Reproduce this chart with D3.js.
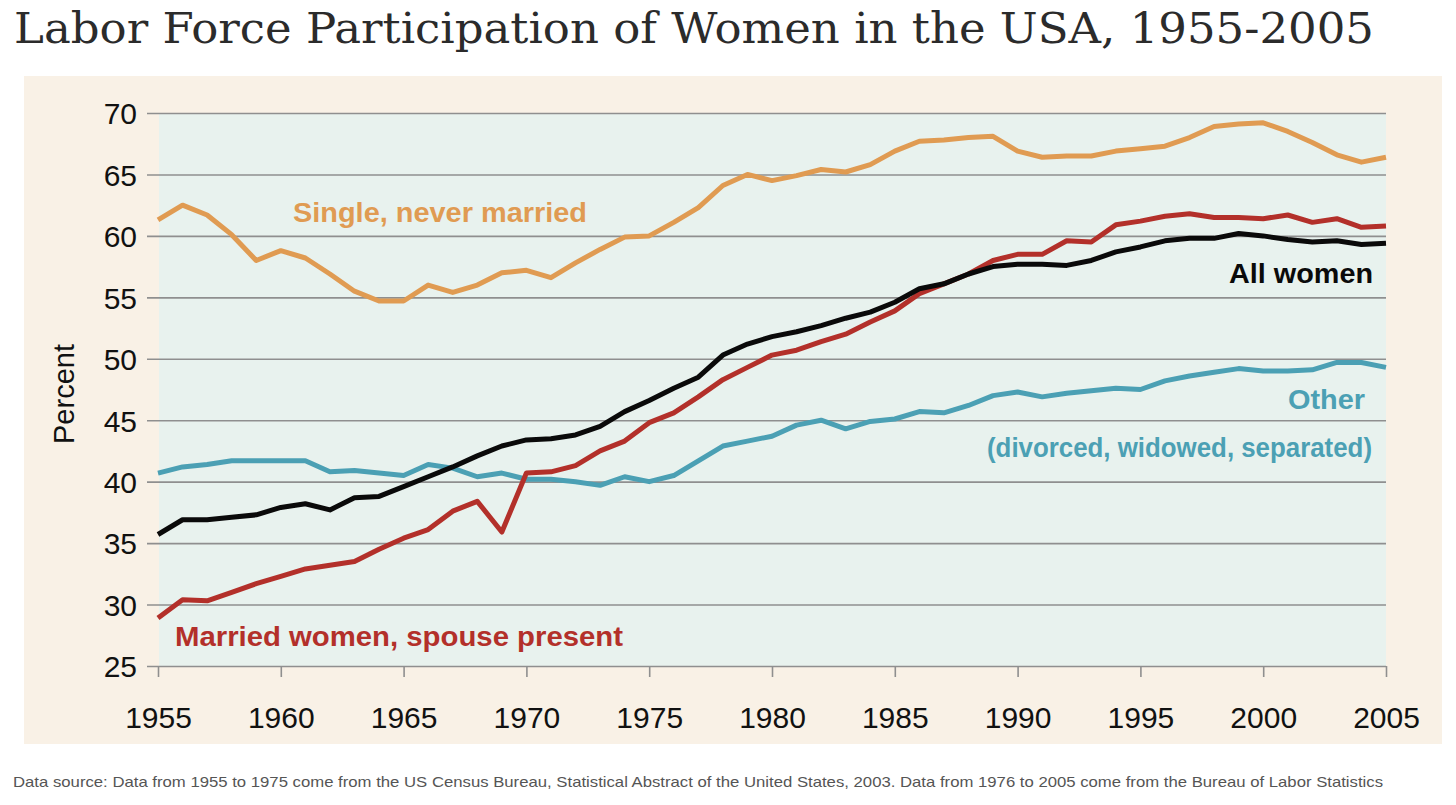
<!DOCTYPE html>
<html>
<head>
<meta charset="utf-8">
<script src="https://cdn.jsdelivr.net/npm/d3@7"></script>
<style>
  html, body { margin: 0; padding: 0; background: #ffffff; }
  svg { display: block; }
</style>
</head>
<body>
<svg id="chart" width="1456" height="805"></svg>
<script>
// ---------- data ----------
const years = d3.range(1955, 2006);

const singleNeverMarried = [
  61.3, 62.5, 61.7, 60.1, 58.0, 58.8, 58.2, 56.9, 55.5, 54.7,
  54.7, 56.0, 55.4, 56.0, 57.0, 57.2, 56.6, 57.8, 58.9, 59.9,
  60.0, 61.1, 62.3, 64.1, 65.0, 64.5, 64.9, 65.4, 65.2, 65.8,
  66.9, 67.7, 67.8, 68.0, 68.1, 66.9, 66.4, 66.5, 66.5, 66.9,
  67.1, 67.3, 68.0, 68.9, 69.1, 69.2, 68.5, 67.6, 66.6, 66.0, 66.4
];
const marriedSpousePresent = [
  28.9, 30.4, 30.3, 31.0, 31.7, 32.3, 32.9, 33.2, 33.5, 34.5,
  35.4, 36.1, 37.6, 38.4, 35.9, 40.7, 40.8, 41.3, 42.5, 43.3,
  44.8, 45.6, 46.9, 48.3, 49.3, 50.3, 50.7, 51.4, 52.0, 53.0,
  53.9, 55.3, 56.1, 56.9, 58.0, 58.5, 58.5, 59.6, 59.5, 60.9,
  61.2, 61.6, 61.8, 61.5, 61.5, 61.4, 61.7, 61.1, 61.4, 60.7, 60.8
];
const allWomen = [
  35.7, 36.9, 36.9, 37.1, 37.3, 37.9, 38.2, 37.7, 38.7, 38.8,
  39.6, 40.4, 41.2, 42.1, 42.9, 43.4, 43.5, 43.8, 44.5, 45.7,
  46.6, 47.6, 48.5, 50.3, 51.2, 51.8, 52.2, 52.7, 53.3, 53.8,
  54.6, 55.7, 56.1, 56.9, 57.5, 57.7, 57.7, 57.6, 58.0, 58.7,
  59.1, 59.6, 59.8, 59.8, 60.2, 60.0, 59.7, 59.5, 59.6, 59.3, 59.4
];
const otherDivWidSep = [
  40.7, 41.2, 41.4, 41.7, 41.7, 41.7, 41.7, 40.8, 40.9, 40.7,
  40.5, 41.4, 41.1, 40.4, 40.7, 40.2, 40.2, 40.0, 39.7, 40.4,
  40.0, 40.5, 41.7, 42.9, 43.3, 43.7, 44.6, 45.0, 44.3, 44.9,
  45.1, 45.7, 45.6, 46.2, 47.0, 47.3, 46.9, 47.2, 47.4, 47.6,
  47.5, 48.2, 48.6, 48.9, 49.2, 49.0, 49.0, 49.1, 49.7, 49.7, 49.3
];

const yTicks = [25, 30, 35, 40, 45, 50, 55, 60, 65, 70];
const xTicks = [1955, 1960, 1965, 1970, 1975, 1980, 1985, 1990, 1995, 2000, 2005];

const titleText = "Labor Force Participation of Women in the USA, 1955-2005";
const yLabel = "Percent";
const sourceText = "Data source: Data from 1955 to 1975 come from the US Census Bureau, Statistical Abstract of the United States, 2003. Data from 1976 to 2005 come from the Bureau of Labor Statistics";

const seriesNames = ["Single, never married", "Married women, spouse present", "All women", "Other", "(divorced, widowed, separated)"];

// ---------- layout ----------
const svg = d3.select("#chart");
const panel = { x0: 24, x1: 1442, y0: 76, y1: 744 };
const plot = { x0: 158, x1: 1386, y0: 113, y1: 666 };

const colors = {
  single: "#E09B52",
  married: "#B3302A",
  all: "#0a0a0a",
  other: "#4BA0B4",
  grid: "#8f8f8f",
  panel: "#F9F1E6",
  plot: "#E8F2EE"
};

const x = d3.scaleLinear().domain([1955, 2005]).range([plot.x0, plot.x1]);
const y = d3.scaleLinear().domain([25, 70]).range([plot.y1, plot.y0]);

// title
svg.append("text")
  .attr("x", 14).attr("y", 43)
  .attr("font-family", "'DejaVu Serif', 'Liberation Serif', serif")
  .attr("font-size", 42)
  .attr("fill", "#2b2b2b")
  .attr("textLength", 1360)
  .attr("lengthAdjust", "spacingAndGlyphs")
  .text(titleText);

// panel background
svg.append("rect")
  .attr("x", panel.x0).attr("y", panel.y0)
  .attr("width", panel.x1 - panel.x0).attr("height", panel.y1 - panel.y0)
  .attr("fill", colors.panel);

svg.append("rect")
  .attr("x", x(1955) + 1).attr("y", y(70))
  .attr("width", x(2005) - x(1955) - 1).attr("height", y(25) - y(70))
  .attr("fill", colors.plot);

// y axis with gridlines
const yAxis = d3.axisLeft(y)
  .tickValues(yTicks)
  .tickSize(-(plot.x1 - plot.x0) - 11)
  .tickPadding(11)
  .tickFormat(d3.format("d"));

const gy = svg.append("g")
  .attr("transform", `translate(${plot.x1},0)`)
  .call(yAxis);
gy.select(".domain").remove();
gy.selectAll(".tick line")
  .attr("x1", 0)
  .attr("x2", -(plot.x1 - plot.x0) - 11)
  .attr("stroke", colors.grid)
  .attr("stroke-width", 1.6);
gy.selectAll(".tick text")
  .attr("x", -(plot.x1 - plot.x0) - 21)
  .attr("dy", "0.36em")
  .attr("font-family", "'Liberation Sans', Arial, sans-serif")
  .attr("font-size", 30)
  .attr("fill", "#111")
  .attr("text-anchor", "end");

// x axis
const xAxis = d3.axisBottom(x)
  .tickValues(xTicks)
  .tickSize(11)
  .tickPadding(0)
  .tickFormat(d3.format("d"));
const gx = svg.append("g")
  .attr("transform", `translate(0,${plot.y1})`)
  .call(xAxis);
gx.select(".domain").remove();
gx.selectAll(".tick line").attr("stroke", colors.grid).attr("stroke-width", 1.6);
gx.selectAll(".tick text")
  .attr("y", 62)
  .attr("dy", 0)
  .attr("font-family", "'Liberation Sans', Arial, sans-serif")
  .attr("font-size", 30)
  .attr("fill", "#111");

// y label
svg.append("text")
  .attr("transform", `translate(74,394) rotate(-90)`)
  .attr("text-anchor", "middle")
  .attr("font-family", "'Liberation Sans', Arial, sans-serif")
  .attr("font-size", 29)
  .attr("fill", "#111")
  .text(yLabel);

// lines
const line = d3.line()
  .x((d, i) => x(years[i]))
  .y(d => y(d));

const series = [
  { values: otherDivWidSep, color: colors.other },
  { values: singleNeverMarried, color: colors.single },
  { values: marriedSpousePresent, color: colors.married },
  { values: allWomen, color: colors.all }
];

svg.append("g").selectAll("path")
  .data(series)
  .join("path")
  .attr("d", d => line(d.values))
  .attr("fill", "none")
  .attr("stroke", d => d.color)
  .attr("stroke-width", 5)
  .attr("stroke-linejoin", "round")
  .attr("stroke-linecap", "butt");

// annotations
const labels = [
  { text: seriesNames[0], x: 293, y: 222, w: 294, color: colors.single },
  { text: seriesNames[1], x: 175, y: 646, w: 448, color: colors.married },
  { text: seriesNames[2], x: 1229, y: 283, w: 144, color: colors.all },
  { text: seriesNames[3], x: 1288, y: 409, w: 77, color: colors.other },
  { text: seriesNames[4], x: 987, y: 457, w: 385, color: colors.other }
];
svg.append("g").selectAll("text")
  .data(labels)
  .join("text")
  .attr("x", d => d.x)
  .attr("y", d => d.y)
  .attr("font-family", "'Liberation Sans', Arial, sans-serif")
  .attr("font-weight", "bold")
  .attr("font-size", 27)
  .attr("fill", d => d.color)
  .attr("textLength", d => d.w)
  .attr("lengthAdjust", "spacingAndGlyphs")
  .text(d => d.text);

// source note
svg.append("text")
  .attr("x", 13).attr("y", 787)
  .attr("font-family", "'Liberation Sans', Arial, sans-serif")
  .attr("font-size", 15)
  .attr("fill", "#555")
  .attr("textLength", 1370)
  .attr("lengthAdjust", "spacingAndGlyphs")
  .text(sourceText);
</script>
</body>
</html>
